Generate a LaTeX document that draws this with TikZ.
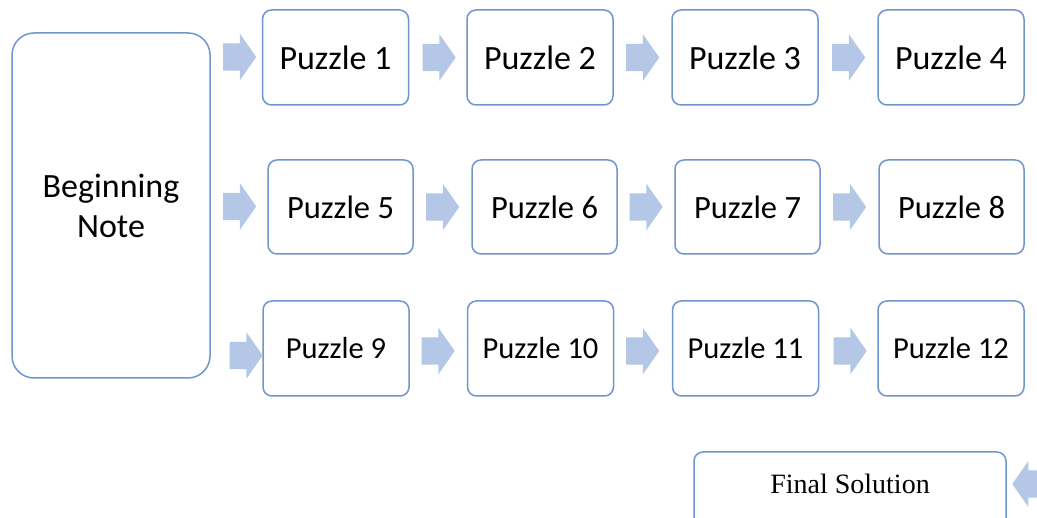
\documentclass[tikz,border=0pt]{standalone}
\usepackage{fontspec}
\setmainfont{Carlito}
\newfontfamily\timesfont{Liberation Serif}
\usetikzlibrary{shapes.arrows}
\definecolor{boxblue}{HTML}{7294CF}
\definecolor{arrowblue}{HTML}{B4C7E7}
\tikzstyle{every node}=[inner sep=0pt]
\tikzstyle{puzzle}=[draw=boxblue, line width=1.5pt, rounded corners=9pt, minimum width=146pt, minimum height=95pt]
\tikzstyle{blockarrow}=[single arrow, fill=arrowblue, inner xsep=0pt, inner ysep=13.5pt, minimum height=33pt, single arrow head extend=9.5pt, single arrow tip angle=110, anchor=tail]
\tikzstyle{bigtext}=[font=\fontsize{34}{40}\selectfont]
\tikzstyle{midtext}=[font=\fontsize{32.5}{40}\selectfont]
\tikzstyle{smalltext}=[font=\fontsize{30.5}{36}\selectfont]

\begin{document}
\begin{tikzpicture}[x=1pt, y=1pt]
  \useasboundingbox (0,0) rectangle (1037,-518);
  % left note
  \node[draw=boxblue, line width=1.5pt, rounded corners=22pt, minimum width=198pt, minimum height=345pt,
        align=center, bigtext] (note) at (111,-205.5) {Beginning\\Note};
  % first row
  \node[puzzle, bigtext] (p1) at (335.5,-57.5) {Puzzle 1};
  \node[puzzle, bigtext] (p2) at (540,-57.5) {Puzzle 2};
  \node[puzzle, bigtext] (p3) at (745,-57.5) {Puzzle 3};
  \node[puzzle, bigtext] (p4) at (951,-57.5) {Puzzle 4};
  \node[blockarrow] (a1) at (223,-57) {};
  \node[blockarrow] (a2) at (422.5,-57.5) {};
  \node[blockarrow] (a3) at (626,-57.5) {};
  \node[blockarrow] (a4) at (832,-57.5) {};
  % second row
  \node[puzzle, midtext, minimum width=145pt, minimum height=94pt] (p5) at (340.5,-207) {Puzzle 5};
  \node[puzzle, midtext, minimum width=145pt, minimum height=94pt] (p6) at (544.5,-207) {Puzzle 6};
  \node[puzzle, midtext, minimum width=145pt, minimum height=94pt] (p7) at (747.5,-207) {Puzzle 7};
  \node[puzzle, midtext, minimum width=145pt, minimum height=94pt] (p8) at (951.5,-207) {Puzzle 8};
  \node[blockarrow] (a5) at (223,-206.5) {};
  \node[blockarrow] (a6) at (426,-207) {};
  \node[blockarrow] (a7) at (629.5,-207) {};
  \node[blockarrow] (a8) at (833,-207) {};
  % third row
  \node[puzzle, smalltext] (p9) at (336,-348.5) {Puzzle 9};
  \node[puzzle, smalltext] (p10) at (540.5,-348.5) {Puzzle 10};
  \node[puzzle, smalltext] (p11) at (745.5,-348.5) {Puzzle 11};
  \node[puzzle, smalltext] (p12) at (951,-348.5) {Puzzle 12};
  \node[blockarrow] (a9) at (229.5,-355.5) {};
  \node[blockarrow] (a10) at (421.5,-351) {};
  \node[blockarrow] (a11) at (626,-351) {};
  \node[blockarrow] (a12) at (833.5,-351) {};
  % final
  \node[draw=boxblue, line width=1.5pt, rounded corners=9pt, minimum width=312pt, minimum height=76pt] (final) at (850,-490) {};
  \node[font=\timesfont\fontsize{28}{32}\selectfont] (finaltext) at (850,-484) {Final Solution};
  \node[blockarrow, shape border rotate=180, anchor=tip] (a13) at (1012,-484) {};
\end{tikzpicture}
\end{document}
